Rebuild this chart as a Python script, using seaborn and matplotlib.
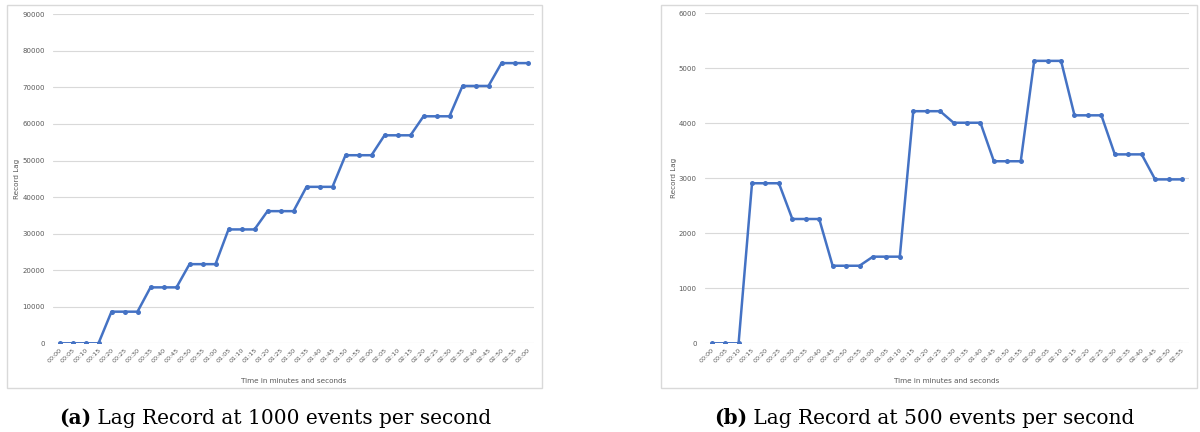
import matplotlib
matplotlib.use("Agg")
import matplotlib.pyplot as plt
from matplotlib.patches import Rectangle
import seaborn as sns
import pandas as pd

# Chart (a): 1000 events per second, 00:00 .. 03:00 every 5 s
times_a = ["00:00", "00:05", "00:10", "00:15", "00:20", "00:25", "00:30", "00:35",
           "00:40", "00:45", "00:50", "00:55", "01:00", "01:05", "01:10", "01:15",
           "01:20", "01:25", "01:30", "01:35", "01:40", "01:45", "01:50", "01:55",
           "02:00", "02:05", "02:10", "02:15", "02:20", "02:25", "02:30", "02:35",
           "02:40", "02:45", "02:50", "02:55", "03:00"]
lag_a = [0, 0, 0, 0,
         8650, 8650, 8650,
         15300, 15300, 15300,
         21650, 21650, 21650,
         31150, 31150, 31150,
         36150, 36150, 36150,
         42800, 42800, 42800,
         51450, 51450, 51450,
         56900, 56900, 56900,
         62100, 62100, 62100,
         70400, 70400, 70400,
         76650, 76650, 76650]

# Chart (b): 500 events per second, 00:00 .. 02:55 every 5 s
times_b = times_a[:-1]
lag_b = [0, 0, 0,
         2910, 2910, 2910,
         2260, 2260, 2260,
         1410, 1410, 1410,
         1575, 1575, 1575,
         4220, 4220, 4220,
         4010, 4010, 4010,
         3310, 3310, 3310,
         5135, 5135, 5135,
         4145, 4145, 4145,
         3435, 3435, 3435,
         2980, 2980, 2980]

captions = [("(a)", " Lag Record at 1000 events per second"),
            ("(b)", " Lag Record at 500 events per second")]

sns.set_theme(style="white")
plt.rcParams['font.family'] = ['DejaVu Sans']

LINE = "#4472C4"
GRID = "#d9d9d9"
TXT = "#595959"
CAP_SIZE = 14.5

fig = plt.figure(figsize=(12, 4.32), dpi=100)

# frames around each chart (figure coords)
for x0, w in [(7, 535), (661, 536)]:
    fig.add_artist(Rectangle((x0 / 1200, 1 - 388 / 432), w / 1200, 383 / 432,
                             transform=fig.transFigure, fill=False,
                             edgecolor="#d9d9d9", linewidth=1.0))

ax_a = fig.add_axes([53 / 1200, 1 - 343.3 / 432, 481 / 1200, 329 / 432])
ax_b = fig.add_axes([705 / 1200, 1 - 343.3 / 432, 483.7 / 1200, 330 / 432])

panels = [(ax_a, times_a, lag_a, 90000, 10000),
          (ax_b, times_b, lag_b, 6000, 1000)]

for ax, times, lag, ymax, step in panels:
    df = pd.DataFrame({"pos": range(len(times)), "lag": lag})
    sns.lineplot(data=df, x="pos", y="lag", ax=ax, color=LINE, linewidth=1.8,
                 marker="o", markersize=3.6, markeredgewidth=0, markeredgecolor=LINE)
    ax.set_xlim(-0.5, len(times) - 0.5)
    ax.set_ylim(0, ymax)
    ax.set_yticks(range(0, ymax + 1, step))
    ax.set_xticks(range(len(times)))
    ax.set_xticklabels(times, rotation=45, ha="right", rotation_mode="anchor",
                       fontsize=4.6, color=TXT)
    ax.tick_params(axis="y", labelsize=5, labelcolor=TXT, length=0, pad=6)
    ax.tick_params(axis="x", length=0, pad=3)
    ax.grid(axis="y", color=GRID, linewidth=0.8)
    ax.set_axisbelow(True)
    for s in ax.spines.values():
        s.set_visible(False)
    ax.set_xlabel("Time in minutes and seconds", fontsize=5.2, color=TXT, labelpad=10)
    ax.set_ylabel("Record Lag", fontsize=5.2, color=TXT, labelpad=1.5)

# captions below each chart: bold tag + regular text, centred as a whole
ybase = 1 - 424 / 432
for (tag, rest), cx in zip(captions, [273, 922]):
    t = fig.text(cx / 1200, ybase, tag + rest, ha="center", va="baseline",
                 fontsize=CAP_SIZE, family="DejaVu Serif", color="white")
    fig.canvas.draw()
    bb = t.get_window_extent()
    t.remove()
    x0 = bb.x0 / fig.bbox.width
    t1 = fig.text(x0, ybase, tag, ha="left", va="baseline",
                  fontsize=CAP_SIZE, family="DejaVu Serif", fontweight="bold", color="black")
    fig.canvas.draw()
    bb1 = t1.get_window_extent()
    fig.text(bb1.x1 / fig.bbox.width, ybase, rest, ha="left", va="baseline",
             fontsize=CAP_SIZE, family="DejaVu Serif", color="black")

fig.savefig("out.png", dpi=100)
